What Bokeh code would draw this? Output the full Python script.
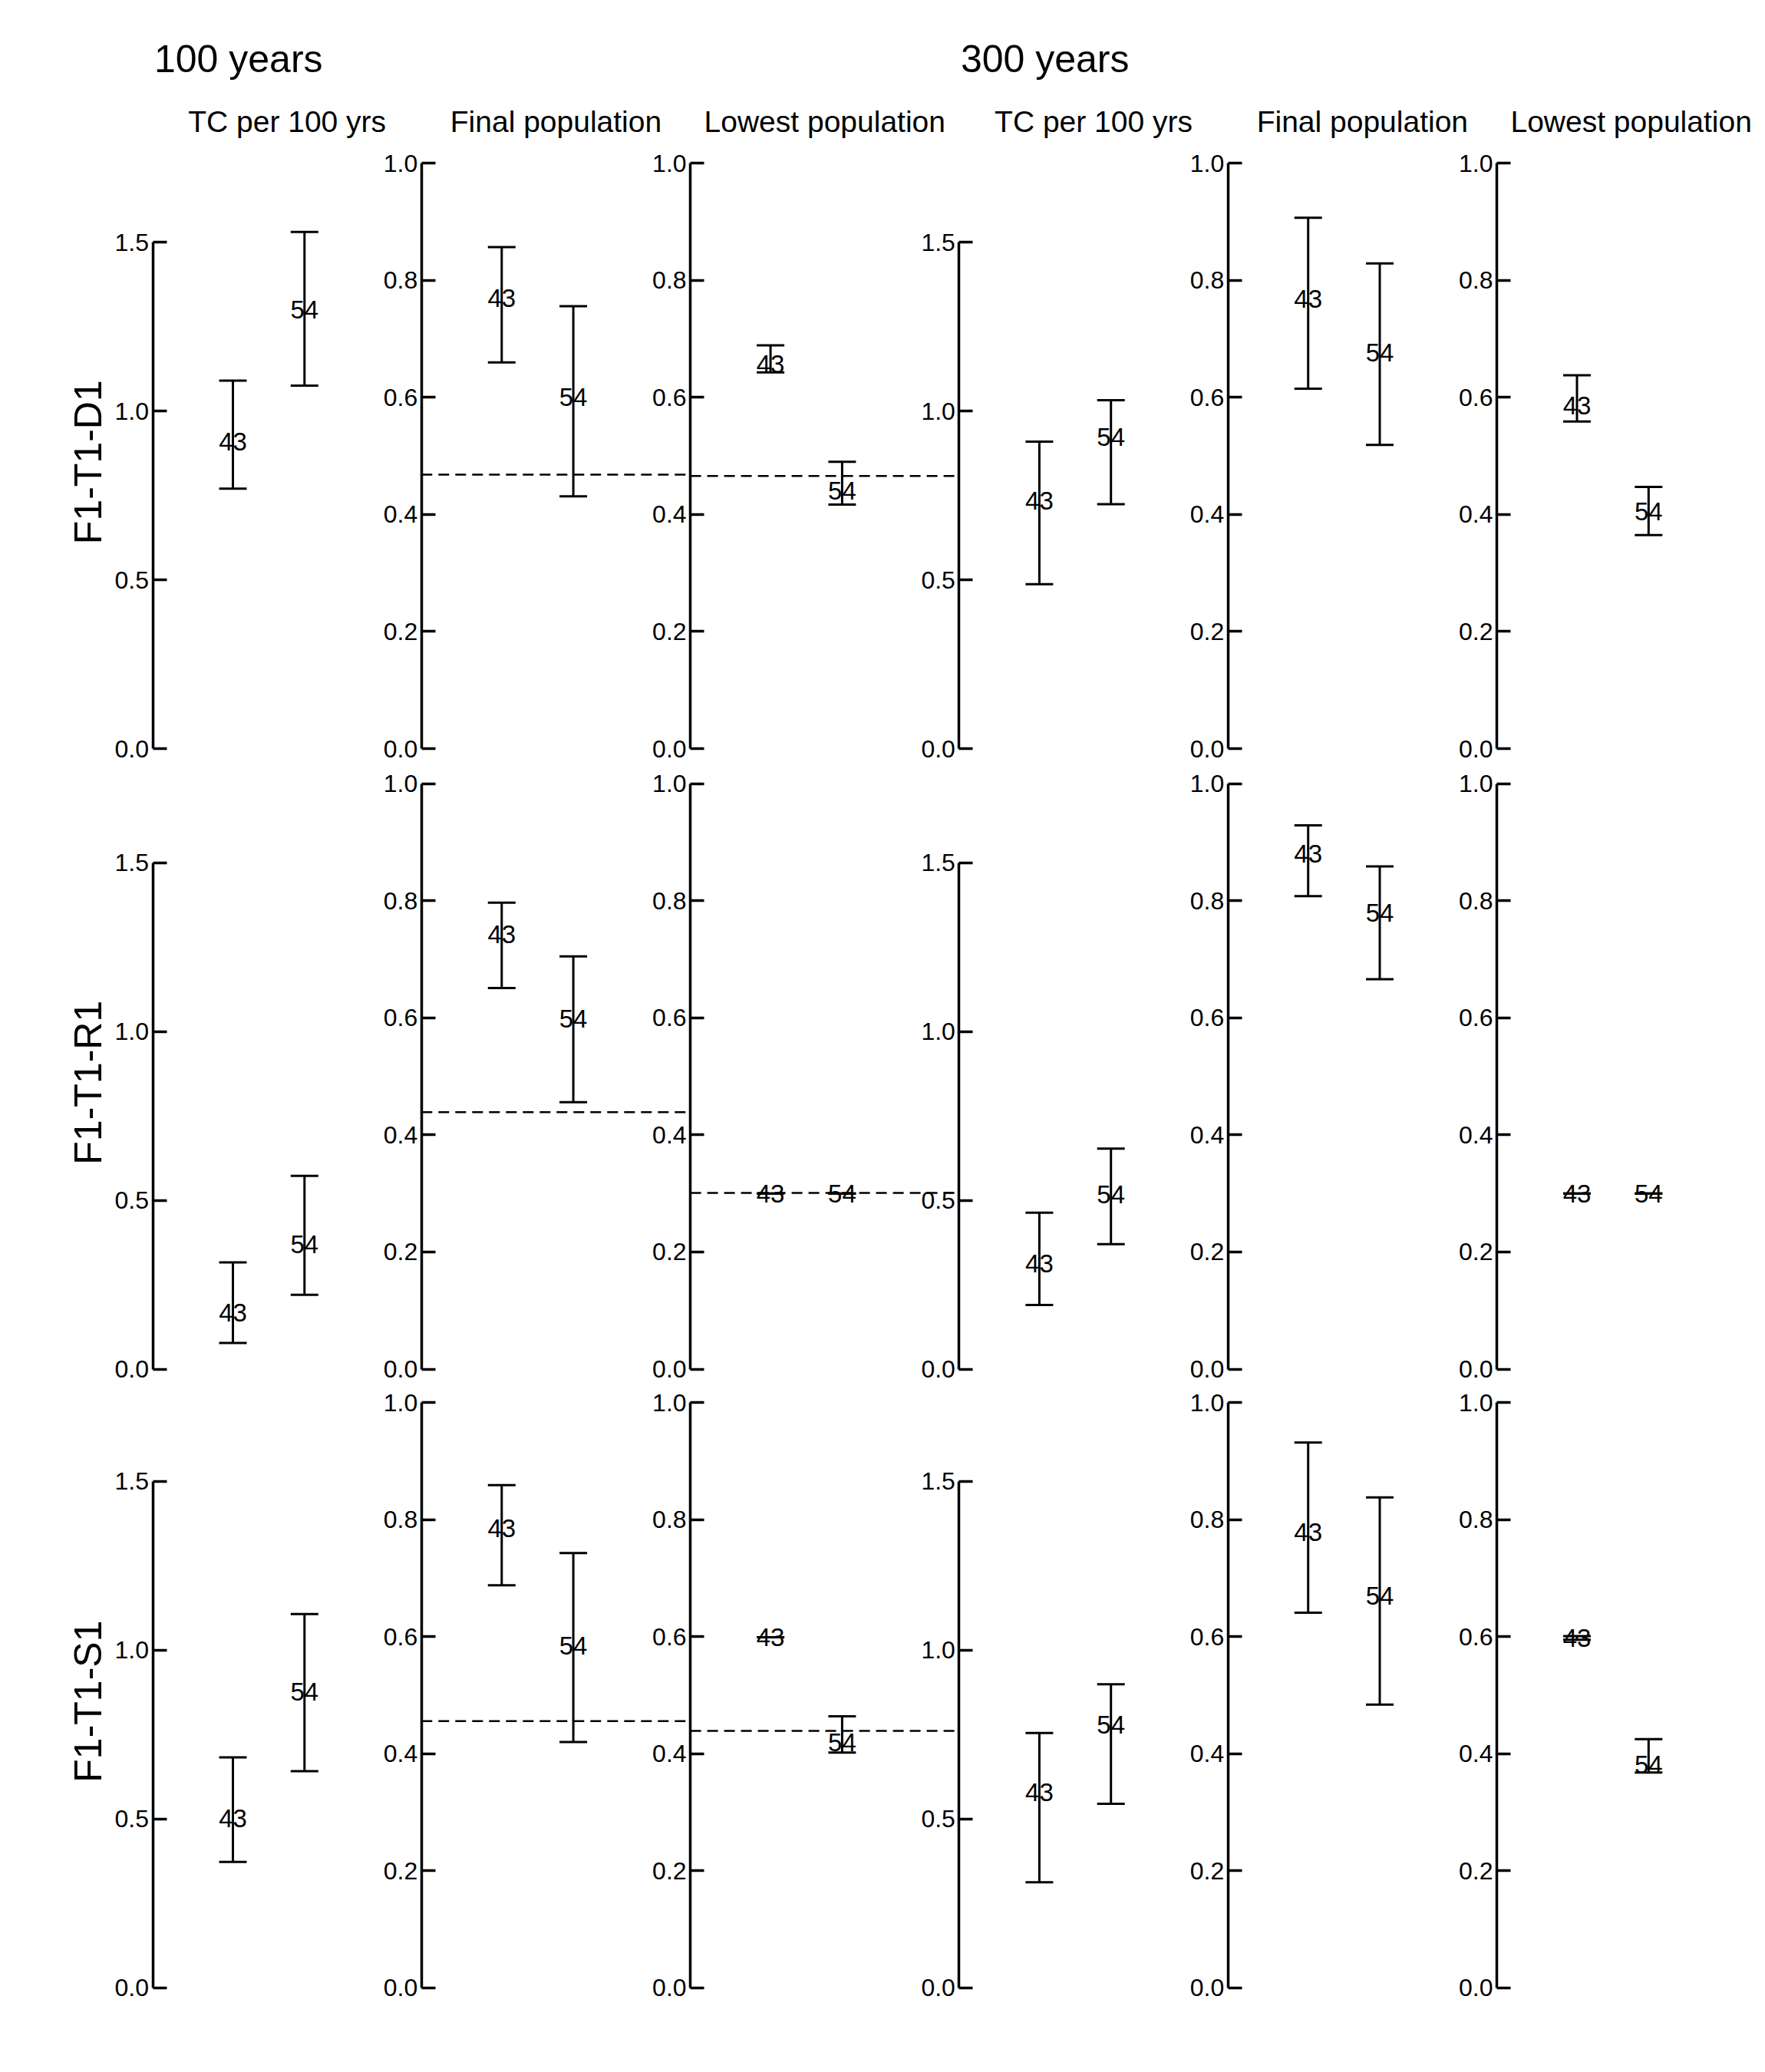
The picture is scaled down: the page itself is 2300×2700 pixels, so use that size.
import math
from bokeh.plotting import figure
from bokeh.models import (Range1d, LinearAxis, FixedTicker, PrintfTickFormatter,
                          Label, ColumnDataSource)
from bokeh.core.properties import value
from bokeh.embed import file_html
from bokeh.resources import INLINE

# ---------------- data ----------------
rows = ["F1-T1-D1", "F1-T1-R1", "F1-T1-S1"]
groups = ["43", "54"]
horizons = ["100 years", "300 years"]
measures = ["TC per 100 yrs", "Final population", "Lowest population"]

# row-major: (D1: 43, 54), (R1: 43, 54), (S1: 43, 54)
tc100_mean = [0.91, 1.30, 0.166, 0.370, 0.502, 0.876]
tc100_lo = [0.77, 1.075, 0.077, 0.220, 0.373, 0.642]
tc100_hi = [1.09, 1.53, 0.316, 0.572, 0.683, 1.107]

final100_mean = [0.770, 0.600, 0.743, 0.598, 0.785, 0.585]
final100_lo = [0.660, 0.431, 0.651, 0.456, 0.688, 0.420]
final100_hi = [0.857, 0.756, 0.797, 0.705, 0.859, 0.743]

lowest100_mean = [0.657, 0.440, 0.300, 0.300, 0.599, 0.419]
lowest100_lo = [0.643, 0.417, 0.300, 0.300, 0.599, 0.402]
lowest100_hi = [0.689, 0.490, 0.300, 0.300, 0.599, 0.464]

tc300_mean = [0.734, 0.923, 0.313, 0.517, 0.579, 0.779]
tc300_lo = [0.487, 0.724, 0.190, 0.370, 0.313, 0.545]
tc300_hi = [0.909, 1.032, 0.463, 0.653, 0.755, 0.899]

final300_mean = [0.768, 0.677, 0.880, 0.779, 0.779, 0.670]
final300_lo = [0.615, 0.519, 0.808, 0.666, 0.641, 0.484]
final300_hi = [0.907, 0.829, 0.929, 0.859, 0.932, 0.838]

lowest300_mean = [0.586, 0.405, 0.300, 0.300, 0.598, 0.381]
lowest300_lo = [0.559, 0.365, 0.300, 0.300, 0.595, 0.368]
lowest300_hi = [0.638, 0.447, 0.300, 0.300, 0.601, 0.425]

final100_ref = [0.468, 0.439, 0.456]
lowest100_ref = [0.466, 0.301, 0.439]

tc_ticks = [0.0, 0.5, 1.0, 1.5]
pop_ticks = [0.0, 0.2, 0.4, 0.6, 0.8, 1.0]

# ---------------- layout ----------------
W, H = 2300, 2700
AX0 = 198.5          # px of first axis
PANEL_PX = 350.3     # px between axes
SLOT_PX = 93.3       # px per x unit
AX_LOCAL = -0.12     # axis position in local x units
ROW_TOPS = [212.4, 1020.9, 1827.3]
FRAME_H = 762.6
TC_PX = 440.0
PW = PANEL_PX / SLOT_PX
slot_start = AX_LOCAL - AX0 / SLOT_PX
slot_end = slot_start + W / SLOT_PX
FONT = "Liberation Sans"

p = figure(width=W, height=H, output_backend="svg", toolbar_location=None,
           x_range=Range1d(0, W), y_range=Range1d(H, 0),
           x_axis_type=None, y_axis_type=None, min_border=0)
p.outline_line_color = None
p.background_fill_color = "white"
p.border_fill_color = "white"

p.extra_x_ranges = {"slot": Range1d(slot_start, slot_end)}
yr = {}
for r, top in enumerate(ROW_TOPS):
    bottom = top + FRAME_H
    yr[f"pop{r}"] = Range1d(1 - (H - top) / FRAME_H, 1 + top / FRAME_H)
    yr[f"tc{r}"] = Range1d(-(H - bottom) / TC_PX, bottom / TC_PX)
p.extra_y_ranges = yr

panels = [
    ("tc", tc100_mean, tc100_lo, tc100_hi, None),
    ("pop", final100_mean, final100_lo, final100_hi, final100_ref),
    ("pop", lowest100_mean, lowest100_lo, lowest100_hi, lowest100_ref),
    ("tc", tc300_mean, tc300_lo, tc300_hi, None),
    ("pop", final300_mean, final300_lo, final300_hi, None),
    ("pop", lowest300_mean, lowest300_lo, lowest300_hi, None),
]

for k, (kind, mean, lo, hi, ref) in enumerate(panels):
    ax_x = k * PW + AX_LOCAL
    for r in range(len(rows)):
        yname = f"{kind}{r}"
        xs = [k * PW + 1 + g for g in range(len(groups))]
        src = ColumnDataSource(dict(
            x=xs,
            mean=mean[2 * r:2 * r + 2],
            lo=lo[2 * r:2 * r + 2],
            hi=hi[2 * r:2 * r + 2],
            label=groups,
        ))
        kw = dict(source=src, x_range_name="slot", y_range_name=yname)
        if ref is not None:
            p.segment(x0=[ax_x], x1=[ax_x + PW], y0=[ref[r]], y1=[ref[r]],
                      line_color="black", line_width=2.5, line_dash="14 8",
                      x_range_name="slot", y_range_name=yname)
        p.segment(x0="x", y0="lo", x1="x", y1="hi", line_color="black",
                  line_width=3, **kw)
        p.scatter(x="x", y="lo", marker="dash", size=36, line_color="black",
                  line_width=3, **kw)
        p.scatter(x="x", y="hi", marker="dash", size=36, line_color="black",
                  line_width=3, **kw)
        p.text(x="x", y="mean", text="label", text_align="center",
               text_baseline="middle", text_font=value(FONT),
               text_font_size="33px", text_color="black", **kw)

        axis = LinearAxis(
            x_range_name="slot", y_range_name=yname, fixed_location=ax_x,
            bounds=(0, 1.5) if kind == "tc" else (0, 1.0),
            ticker=FixedTicker(ticks=tc_ticks if kind == "tc" else pop_ticks,
                               minor_ticks=[]),
            formatter=PrintfTickFormatter(format="%.1f"),
        )
        axis.axis_line_width = 3.5
        axis.axis_line_color = "black"
        axis.major_tick_line_width = 3.5
        axis.major_tick_line_color = "black"
        axis.major_tick_in = 18
        axis.major_tick_out = 0
        axis.minor_tick_in = 0
        axis.minor_tick_out = 0
        axis.major_label_standoff = 5
        axis.major_label_text_font = FONT
        axis.major_label_text_font_size = "32px"
        axis.major_label_text_color = "black"
        p.add_layout(axis, "left")

# ---------------- texts ----------------
for h, name in enumerate(horizons):
    p.add_layout(Label(x=AX0 + 3 * h * PANEL_PX + 2, y=76, text=name,
                       text_font=FONT, text_font_size="50px",
                       text_align="left", text_baseline="middle",
                       text_color="black"))
for k in range(6):
    p.add_layout(Label(x=AX0 + k * PANEL_PX + PANEL_PX / 2, y=158,
                       text=measures[k % 3], text_font=FONT,
                       text_font_size="39px", text_align="center",
                       text_baseline="middle", text_color="black"))
for r, name in enumerate(rows):
    p.add_layout(Label(x=114, y=ROW_TOPS[r] + FRAME_H / 2 + 8, text=name,
                       angle=math.pi / 2, text_font=FONT,
                       text_font_size="50px", text_align="center",
                       text_baseline="middle", text_color="black"))

open("out.html", "w").write(file_html(p, INLINE))
